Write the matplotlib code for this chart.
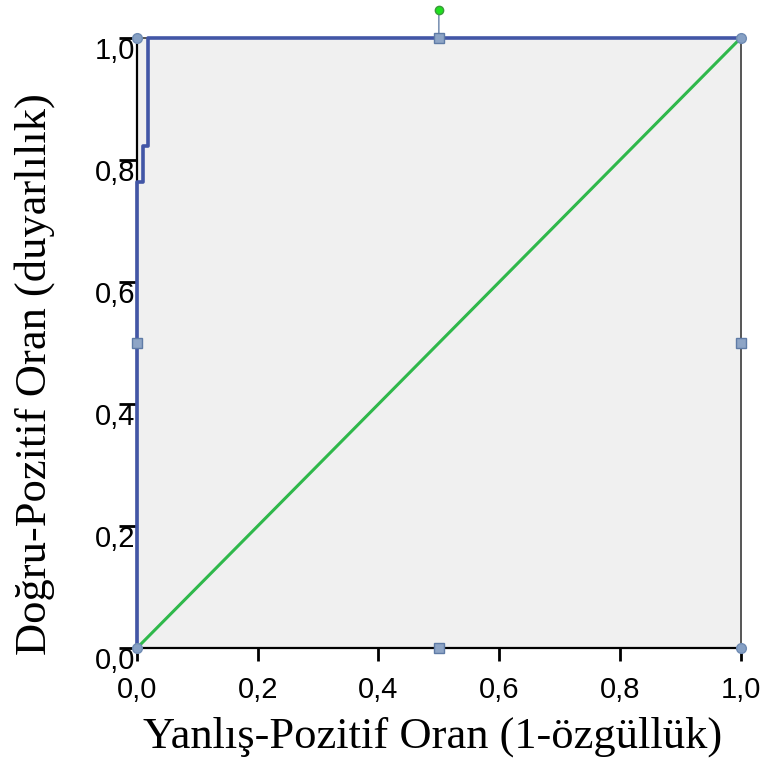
import matplotlib.pyplot as plt
import matplotlib.transforms as mtransforms

# ROC curve points (false positive rate, true positive rate)
fpr = [0.0, 0.0, 0.010, 0.010, 0.018, 0.018, 1.0]
tpr = [0.0, 0.764, 0.764, 0.823, 0.823, 1.0, 1.0]
# reference line
ref_x = [0.0, 1.0]
ref_y = [0.0, 1.0]

ticks = [0.0, 0.2, 0.4, 0.6, 0.8, 1.0]
tick_labels = ['0,0', '0,2', '0,4', '0,6', '0,8', '1,0']

xlabel = 'Yanlış-Pozitif Oran (1-özgüllük)'
ylabel = 'Doğru-Pozitif Oran (duyarlılık)'

fig = plt.figure(figsize=(7.76, 7.69), dpi=100)
ax = fig.add_axes([0.1765, 0.1573, 0.778, 0.7932])
ax.set_facecolor('#f0f0f0')

ax.plot(ref_x, ref_y, color='#2fb84b', lw=2.2, zorder=3)
ax.plot(fpr, tpr, color='#4256a6', lw=2.6, zorder=4, clip_on=False)

ax.set_xlim(0, 1)
ax.set_ylim(0, 1)
ax.set_xticks(ticks)
ax.set_xticklabels(tick_labels)
ax.set_yticks(ticks)
ax.set_yticklabels(tick_labels)

for s in ['left', 'bottom']:
    ax.spines[s].set_color('black')
    ax.spines[s].set_linewidth(1.6)
for s in ['right', 'top']:
    ax.spines[s].set_color('#555555')
    ax.spines[s].set_linewidth(1.4)

ax.tick_params(axis='x', direction='out', length=9, width=2, pad=11,
               labelsize=21, colors='black')
ax.tick_params(axis='y', direction='out', length=13, width=2, pad=-12,
               labelsize=21, colors='black')
shift = mtransforms.ScaledTranslation(0, -7 / 72, fig.dpi_scale_trans)
for lab in ax.get_xticklabels() + ax.get_yticklabels():
    lab.set_fontfamily('Liberation Sans')
for lab in ax.get_yticklabels():
    lab.set_zorder(1)
    lab.set_transform(lab.get_transform() + shift)

ax.set_xlabel(xlabel, fontsize=32, fontfamily='Liberation Serif')
ax.set_ylabel(ylabel, fontsize=32, fontfamily='Liberation Serif')
ax.xaxis.set_label_coords(0.49, -0.112)
ax.yaxis.set_label_coords(-0.136, 0.449)

# selection handles around the chart frame
x0, x1 = ax.get_xlim()
y0, y1 = ax.get_ylim()
xm, ym = (x0 + x1) / 2, (y0 + y1) / 2
corners_x = [x0, x1, x1, x0]
corners_y = [y1, y1, y0, y0]
mids_x = [xm, x1, xm, x0]
mids_y = [y1, ym, y0, ym]
ax.plot(corners_x, corners_y, 'o', ms=7, mfc='#86a0c4', mec='#6f8bb3',
        ls='none', clip_on=False, zorder=6)
ax.plot(mids_x, mids_y, 's', ms=7, mfc='#8ea5c6', mec='#5f7ba6',
        ls='none', clip_on=False, zorder=6)
up = mtransforms.offset_copy(ax.transData, fig=fig, x=0, y=20, units='points')
ax.annotate('', xy=(xm, y1), xytext=(0, 20), textcoords='offset points',
            arrowprops=dict(arrowstyle='-', color='#7f95b5', lw=1.2),
            annotation_clip=False)
ax.plot([xm], [y1], 'o', ms=6, mfc='#1fe01f', mec='#3a9a3a',
        transform=up, clip_on=False, zorder=7)

fig.savefig('out.png', dpi=100)
